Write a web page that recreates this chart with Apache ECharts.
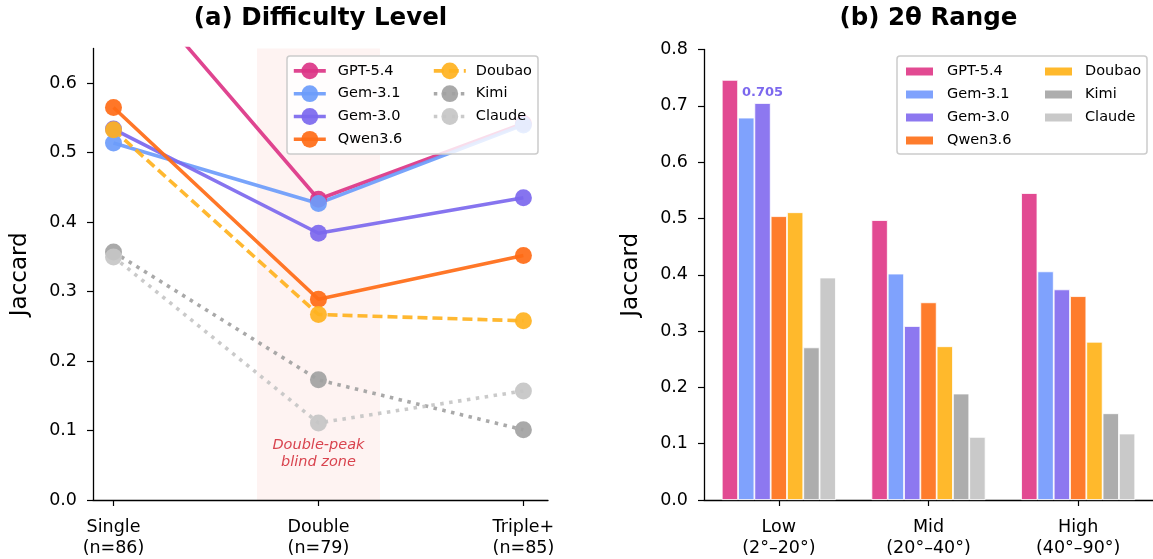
<!DOCTYPE html>
<html><head><meta charset="utf-8">
<script src="https://cdn.jsdelivr.net/npm/echarts@6/dist/echarts.min.js"></script>
<style>html,body{margin:0;padding:0;background:#fff}#c{width:1153px;height:559px}</style>
</head><body><div id="c"></div>
<script>
// ---------- data ----------
const models = ['GPT-5.4', 'Gem-3.1', 'Gem-3.0', 'Qwen3.6', 'Doubao', 'Kimi', 'Claude'];
const lineColors = ['#DC3587', '#6C9CFB', '#7C68EE', '#FF6B16', '#FFB21F', '#A2A2A2', '#C6C6C6'];
const barColors  = ['#E24A92', '#7FA2FD', '#8D78F0', '#FE7C2C', '#FFB92C', '#ADADAD', '#C9C9C9'];
const lineKinds  = ['solid', 'solid', 'solid', 'solid', 'dashed', 'dotted', 'dotted'];

// panel (a)
const difficultyLabels = ['Single\n(n=86)', 'Double\n(n=79)', 'Triple+\n(n=85)'];
const difficultyX = [0, 1, 2];
const gpt54Difficulty  = [0.776, 0.433, 0.542];
const gem31Difficulty  = [0.514, 0.427, 0.540];
const gem30Difficulty  = [0.534, 0.384, 0.435];
const qwenDifficulty   = [0.565, 0.289, 0.352];
const doubaoDifficulty = [0.533, 0.267, 0.258];
const kimiDifficulty   = [0.357, 0.173, 0.101];
const claudeDifficulty = [0.350, 0.111, 0.157];
const difficultyTicks = [0, 0.1, 0.2, 0.3, 0.4, 0.5, 0.6];
const blindZone = [0.7, 1.3];
const blindZoneText = 'Double-peak\nblind zone';

// panel (b)
const rangeLabels = ['Low\n(2°–20°)', 'Mid\n(20°–40°)', 'High\n(40°–90°)'];
const gpt54Range  = [0.746, 0.497, 0.545];
const gem31Range  = [0.679, 0.402, 0.406];
const gem30Range  = [0.705, 0.309, 0.374];
const qwenRange   = [0.504, 0.351, 0.362];
const doubaoRange = [0.511, 0.273, 0.281];
const kimiRange   = [0.271, 0.189, 0.154];
const claudeRange = [0.395, 0.112, 0.118];
const annotatedBar = { model: 'Gem-3.0', index: 0 };

// ---------- build ----------
const difficultySeries = [gpt54Difficulty, gem31Difficulty, gem30Difficulty, qwenDifficulty, doubaoDifficulty, kimiDifficulty, claudeDifficulty];
const rangeSeries = [gpt54Range, gem31Range, gem30Range, qwenRange, doubaoRange, kimiRange, claudeRange];
const FONT = 'DejaVu Sans';
const dashMap = { solid: 'solid', dashed: [10, 5], dotted: [3.5, 5.5] };

const series = [];
models.forEach((m, i) => {
  const s = {
    type: 'line', name: m, xAxisIndex: 0, yAxisIndex: 0,
    data: difficultyX.map((x, k) => [x, difficultySeries[i][k]]),
    symbol: 'circle', symbolSize: 17,
    lineStyle: { width: 3.6, color: lineColors[i], type: dashMap[lineKinds[i]], cap: 'butt', opacity: 0.92 },
    itemStyle: { color: lineColors[i], opacity: 0.92 },
    emphasis: { disabled: true }, animation: false, clip: true
  };
  if (i === 0) {
    s.markArea = {
      silent: true, z: 0,
      itemStyle: { color: '#FEF3F2' },
      label: {
        show: true, position: 'insideBottom', distance: 29,
        formatter: blindZoneText, color: '#D9444F', fontStyle: 'italic',
        fontFamily: FONT, fontSize: 14.5, lineHeight: 17
      },
      data: [[{ xAxis: blindZone[0] }, { xAxis: blindZone[1] }]]
    };
  }
  series.push(s);
});
models.forEach((m, i) => {
  series.push({
    type: 'bar', name: m + '@bar', xAxisIndex: 1, yAxisIndex: 1,
    data: rangeSeries[i].map((v, k) => (m === annotatedBar.model && k === annotatedBar.index)
      ? { value: v, label: { show: true } } : v),
    barWidth: 16.3, barGap: '0%',
    itemStyle: { color: barColors[i], borderColor: '#ffffff', borderWidth: 0.8 },
    label: {
      show: false, position: 'top', distance: 4,
      formatter: p => p.value.toFixed(3),
      color: '#7C68EE', fontWeight: 'bold', fontFamily: FONT, fontSize: 13
    },
    emphasis: { disabled: true }, animation: false
  });
});

const axisLineStyle = { color: '#000', width: 1.3 };
const tickStyle = { show: true, length: 6, lineStyle: { color: '#000', width: 1.2 } };
const labelStyle = { color: '#000', fontFamily: FONT, fontSize: 17.5 };

const legendCommon = {
  orient: 'vertical', padding: 0, textStyle: { fontFamily: FONT, fontSize: 14.5, color: '#000', lineHeight: 16 },
  selectedMode: false, z: 20, formatter: n => n.split('@')[0]
};

const option = {
  animation: false,
  backgroundColor: '#ffffff',
  title: [
    { text: '(a) Difficulty Level', left: 320.5, top: 6, textAlign: 'center', padding: 0,
      textStyle: { fontFamily: FONT, fontWeight: 'bold', fontSize: 24.5, color: '#000' } },
    { text: '(b) 2θ Range', left: 928.5, top: 6, textAlign: 'center', padding: 0,
      textStyle: { fontFamily: FONT, fontWeight: 'bold', fontSize: 24.5, color: '#000' } }
  ],
  grid: [
    { left: 93, top: 48.5, width: 455, height: 453 },
    { left: 704, top: 49.5, width: 449, height: 452 }
  ],
  xAxis: [
    { type: 'value', gridIndex: 0, min: -0.1, max: 2.12,
      axisLine: { show: true, onZero: false, lineStyle: axisLineStyle },
      axisTick: Object.assign({ customValues: difficultyX }, tickStyle),
      axisLabel: Object.assign({ customValues: difficultyX, margin: 17, lineHeight: 21,
        formatter: v => difficultyLabels[Math.round(v)] }, labelStyle),
      splitLine: { show: false } },
    { type: 'category', gridIndex: 1, data: rangeLabels, boundaryGap: true,
      axisLine: { show: true, lineStyle: axisLineStyle },
      axisTick: Object.assign({ alignWithLabel: true }, tickStyle),
      axisLabel: Object.assign({ margin: 17, lineHeight: 21 }, labelStyle),
      splitLine: { show: false } }
  ],
  yAxis: [
    { type: 'value', gridIndex: 0, min: 0, max: 0.65,
      name: 'Jaccard', nameLocation: 'middle', nameGap: 61,
      nameTextStyle: { fontFamily: FONT, fontSize: 23, color: '#000' },
      axisLine: { show: true, onZero: false, lineStyle: axisLineStyle },
      axisTick: Object.assign({ customValues: difficultyTicks }, tickStyle),
      axisLabel: Object.assign({ customValues: difficultyTicks, margin: 16, formatter: v => v.toFixed(1) }, labelStyle),
      splitLine: { show: false } },
    { type: 'value', gridIndex: 1, min: 0, max: 0.8, interval: 0.1,
      name: 'Jaccard', nameLocation: 'middle', nameGap: 61,
      nameTextStyle: { fontFamily: FONT, fontSize: 23, color: '#000' },
      axisLine: { show: true, onZero: false, lineStyle: axisLineStyle },
      axisTick: tickStyle,
      axisLabel: Object.assign({ margin: 16, formatter: v => v.toFixed(1) }, labelStyle),
      splitLine: { show: false } }
  ],
  legend: [
    Object.assign({}, legendCommon, { data: models.slice(0, 4), left: 292, top: 62.5, itemWidth: 32, itemHeight: 21, itemGap: 6,
      lineStyle: { width: 3.6 },
      textStyle: Object.assign({}, legendCommon.textStyle, { padding: [0, 0, 0, 7] }) }),
    Object.assign({}, legendCommon, { data: models.slice(4), left: 432, top: 62.5, itemWidth: 32, itemHeight: 21, itemGap: 6,
      lineStyle: { width: 3.6 },
      textStyle: Object.assign({}, legendCommon.textStyle, { padding: [0, 0, 0, 5] }) }),
    Object.assign({}, legendCommon, { data: models.slice(0, 4).map(m => m + '@bar'), icon: 'rect', left: 904, top: 63.5, itemWidth: 29, itemHeight: 10, itemGap: 7,
      textStyle: Object.assign({}, legendCommon.textStyle, { padding: [0, 0, 0, 8] }) }),
    Object.assign({}, legendCommon, { data: models.slice(4).map(m => m + '@bar'), icon: 'rect', left: 1043, top: 63.5, itemWidth: 29, itemHeight: 10, itemGap: 7,
      textStyle: Object.assign({}, legendCommon.textStyle, { padding: [0, 0, 0, 7] }) })
  ],
  graphic: [
    { type: 'rect', z: 10, silent: true, shape: { x: 287, y: 56, width: 251, height: 98, r: 3 },
      style: { fill: 'rgba(255,255,255,0.82)', stroke: '#CCCCCC', lineWidth: 1.5 } },
    { type: 'rect', z: 10, silent: true, shape: { x: 897, y: 56, width: 250, height: 98, r: 3 },
      style: { fill: 'rgba(255,255,255,0.82)', stroke: '#CCCCCC', lineWidth: 1.5 } }
  ],
  series: series
};

const chart = echarts.init(document.getElementById('c'), null, { renderer: 'canvas' });
chart.setOption(option);
</script>
</body></html>
